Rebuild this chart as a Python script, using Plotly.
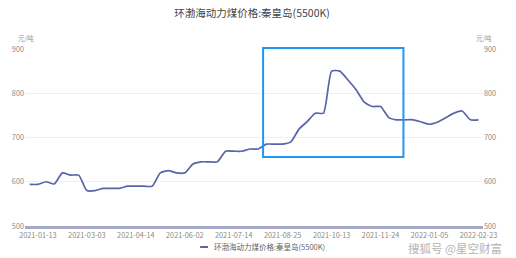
import plotly.graph_objects as go

# ---- data ----
dates = [
    "2021-01-06", "2021-01-13", "2021-01-20", "2021-01-27", "2021-02-03", "2021-02-10",
    "2021-02-24", "2021-03-03", "2021-03-10", "2021-03-17", "2021-03-24", "2021-03-31",
    "2021-04-07", "2021-04-14", "2021-04-21", "2021-04-28", "2021-05-12", "2021-05-19",
    "2021-05-26", "2021-06-02", "2021-06-09", "2021-06-16", "2021-06-23", "2021-06-30",
    "2021-07-07", "2021-07-14", "2021-07-21", "2021-07-28", "2021-08-04", "2021-08-11",
    "2021-08-18", "2021-08-25", "2021-09-01", "2021-09-08", "2021-09-15", "2021-09-22",
    "2021-09-29", "2021-10-13", "2021-10-20", "2021-10-27", "2021-11-03", "2021-11-10",
    "2021-11-17", "2021-11-24", "2021-12-01", "2021-12-08", "2021-12-15", "2021-12-22",
    "2021-12-29", "2022-01-05", "2022-01-12", "2022-01-19", "2022-01-26", "2022-02-09",
    "2022-02-16", "2022-02-23",
]
prices = [
    594, 594, 600, 595, 620, 615,
    615, 580, 580, 585, 585, 585,
    590, 590, 590, 590, 620, 625,
    620, 620, 640, 645, 645, 645,
    669, 669, 669, 674, 674, 685,
    685, 685, 690, 719, 736, 755,
    755, 850, 850, 830, 808, 780,
    770, 770, 745, 740, 740, 740,
    735, 730, 735, 745, 755, 760,
    740, 740,
]
tick_labels = ["2021-01-13", "2021-03-03", "2021-04-14", "2021-06-02", "2021-07-14",
               "2021-08-25", "2021-10-13", "2021-11-24", "2022-01-05", "2022-02-23"]
y_ticks = [500, 600, 700, 800, 900]
series_name = "环渤海动力煤价格:秦皇岛(5500K)"
title_text = "环渤海动力煤价格:秦皇岛(5500K)"
unit_text = "元/吨"
watermark_text = "搜狐号 @星空财富"
highlight_from, highlight_to = "2021-08-04", "2021-12-08"
highlight_low, highlight_high = 656, 902

FONT = "Noto Sans CJK SC, Noto Sans, sans-serif"
LINE_COLOR = "#5b64a9"
TICK_COLOR = "#8a8a8a"
Y_RANGE = [500, 900]

fig = go.Figure()
fig.add_trace(go.Scatter(
    x=dates, y=prices, mode="lines", name=series_name,
    line=dict(color=LINE_COLOR, width=1.7, shape="spline", smoothing=0.55),
    showlegend=False,
))
fig.add_trace(go.Scatter(
    x=dates, y=prices, mode="lines", yaxis="y2", hoverinfo="skip",
    line=dict(color="rgba(0,0,0,0)", width=0), showlegend=False,
))

n = len(dates)
xr = [-0.58, n - 1 + 0.55]


def xpaper(i):
    return (i - xr[0]) / (xr[1] - xr[0])


def ypaper(v):
    return (v - Y_RANGE[0]) / (Y_RANGE[1] - Y_RANGE[0])


i0 = dates.index(highlight_from) + 0.6
i1 = dates.index(highlight_to) + 0.8

fig.add_shape(type="rect", xref="paper", yref="paper",
              x0=xpaper(i0), x1=xpaper(i1), y0=ypaper(highlight_low), y1=ypaper(highlight_high),
              line=dict(color="#2196f3", width=2), fillcolor="rgba(0,0,0,0)", layer="above")

# legend (custom, small icon like the original)
leg_y = -21 / 177
fig.add_shape(type="line", xref="paper", yref="paper",
              x0=(197 - 20) / 463, x1=(205 - 20) / 463, y0=leg_y, y1=leg_y,
              line=dict(color=LINE_COLOR, width=2))
fig.add_annotation(text=series_name, xref="paper", yref="paper",
                   x=(209 - 20) / 463, y=leg_y, xanchor="left", yanchor="middle",
                   showarrow=False, font=dict(family=FONT, size=7.5, color="#666666"))

# unit labels
fig.add_annotation(text=unit_text, xref="paper", yref="paper", x=(21 - 20) / 463, y=1 + 11 / 177,
                   xanchor="center", yanchor="middle", showarrow=False,
                   font=dict(family=FONT, size=6.5, color="#999999"))
fig.add_annotation(text=unit_text, xref="paper", yref="paper", x=(484 - 20) / 463, y=1 + 11 / 177,
                   xanchor="center", yanchor="middle", showarrow=False,
                   font=dict(family=FONT, size=6.5, color="#999999"))

# watermark
fig.add_annotation(text=watermark_text, xref="paper", yref="paper",
                   x=(455 - 20) / 463, y=-22 / 177, xanchor="center", yanchor="middle",
                   showarrow=False, font=dict(family=FONT, size=11.5, color="#b4b4b4"))

fig.update_layout(
    width=516, height=258,
    margin=dict(l=20, r=33, t=49, b=32),
    paper_bgcolor="white", plot_bgcolor="white",
    title=dict(text=title_text, x=252 / 516, xanchor="center", y=1 - 13 / 258, yanchor="middle",
               font=dict(family=FONT, size=10.5, color="#444444")),
    showlegend=False,
    xaxis=dict(type="category", range=xr, tickmode="array", tickvals=tick_labels, ticktext=tick_labels,
               showgrid=False, showline=True, linecolor="#a6a8c8", linewidth=3,
               ticks="", tickfont=dict(family=FONT, size=7.3, color=TICK_COLOR), zeroline=False),
    yaxis=dict(range=Y_RANGE, tickvals=y_ticks, showgrid=True, gridcolor="#eef0f6", gridwidth=1,
               zeroline=False, showline=False, ticks="",
               tickfont=dict(family=FONT, size=7.3, color=TICK_COLOR)),
    yaxis2=dict(range=Y_RANGE, tickvals=y_ticks, overlaying="y", side="right", showgrid=False,
                zeroline=False, showline=False, ticks="",
                tickfont=dict(family=FONT, size=7.3, color=TICK_COLOR)),
)

fig.write_html("out.html")
